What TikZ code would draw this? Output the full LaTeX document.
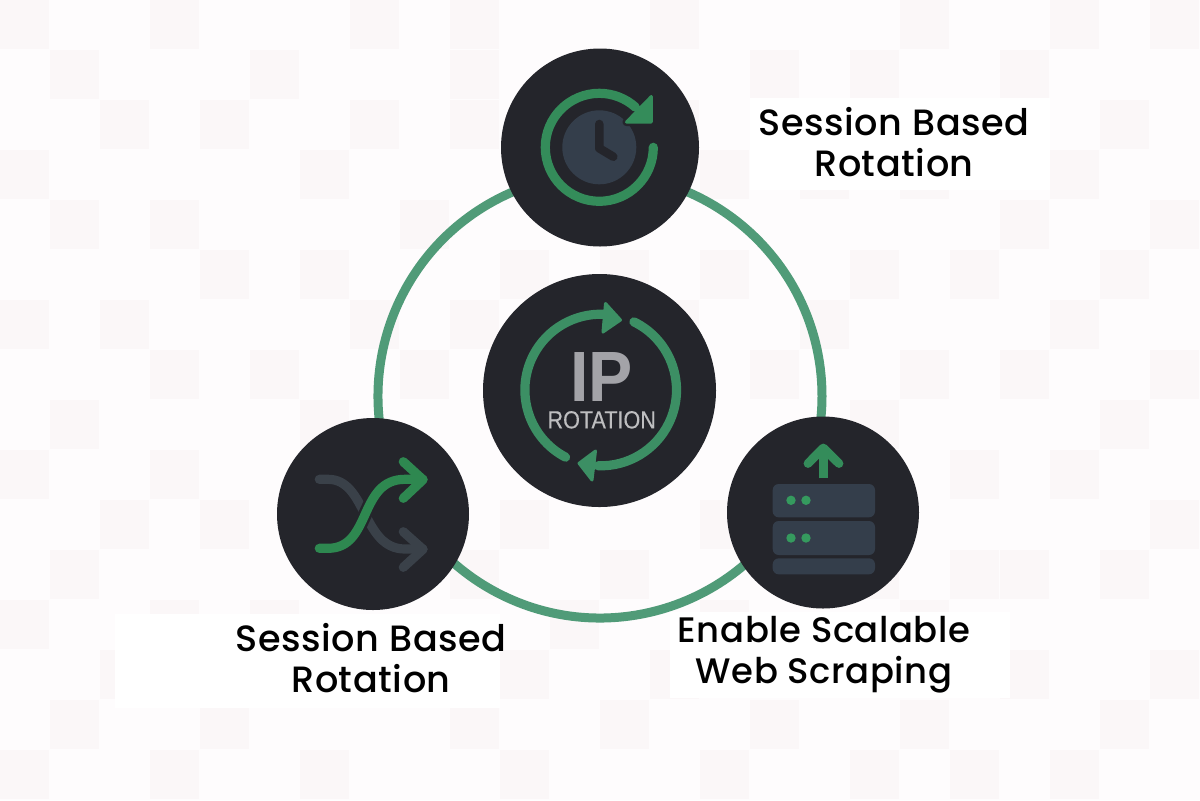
\documentclass[tikz,border=0pt]{standalone}
\usepackage{fontspec}
\setmainfont{Liberation Sans}
\newfontfamily\labfont[LetterSpace=1.6]{Poppins Medium}
\newfontfamily\ipfont[FakeStretch=0.93]{Liberation Sans Bold}
\newfontfamily\rotfont[FakeStretch=0.87,FakeBold=0.25]{Liberation Sans}
\definecolor{pagebg}{RGB}{254,252,253}
\definecolor{tile}{RGB}{251,247,248}
\definecolor{disc}{RGB}{36,37,43}
\definecolor{ringgreen}{RGB}{80,155,120}
\definecolor{icongreen}{RGB}{52,140,90}
\definecolor{arcgreen}{RGB}{60,143,100}
\definecolor{shufflegreen}{RGB}{46,136,80}
\definecolor{slate}{RGB}{52,62,75}
\definecolor{shufflegray}{RGB}{58,65,73}
\definecolor{ipgray}{RGB}{163,163,168}
\definecolor{rotgray}{RGB}{190,190,192}
\definecolor{dotgreen}{RGB}{53,154,94}
\tikzset{
  x=0.5pt,y=-0.5pt,
  bigdisc/.style={circle,fill=disc,draw=none,inner sep=0pt,outer sep=0pt},
  ringarc/.style={draw=ringgreen,line width=4.5pt},
  iconline/.style={line width=4.6pt,line cap=round,line join=round},
  shelf/.style={fill=slate,rounded corners=3pt},
  ledot/.style={fill=dotgreen},
  lab/.style={font=\fontsize{18.3}{20.4}\labfont,align=center,text=black,inner sep=0pt},
  panel/.style={fill=white,draw=none},
}
\newcommand{\tilerow}[2]{\foreach \c in {#2}{\fill[tile] (50*\c,50*#1) rectangle ++(49,49);}}
\begin{document}
\begin{tikzpicture}
\useasboundingbox (0,0) rectangle (1200,800);
\fill[pagebg] (0,0) rectangle (1200,800);
\tilerow{0}{0,3,7,9,13,18,21,23}
\tilerow{1}{1,5,9,15,17,20}
\tilerow{2}{2,4,7,9,13,22}
\tilerow{3}{0,6,14,16,18,21}
\tilerow{4}{1,3,8,20,23}
\tilerow{5}{4,6,10,12,14,17,19,22}
\tilerow{6}{0,2,7,9,13,16,21}
\tilerow{7}{3,5,8,15,18,20,23}
\tilerow{8}{1,6,17,22}
\tilerow{9}{0,3,19,21}
\tilerow{10}{2,4,10,14,23}
\tilerow{11}{1,9,12,17,19,20,22}
\tilerow{12}{0,3,5,11,14,18}
\tilerow{13}{2,10,13,20,23}
\tilerow{14}{1,4,9,12,15,18,22}
\tilerow{15}{0,3,6,10,14,17,19,21}
% white panels behind labels
\fill[panel] (750,98) rectangle (1050,190);
\fill[panel] (115,614) rectangle (500,708);
\fill[panel] (670,612) rectangle (1010,698);
% ring, as three arcs between the discs
\coordinate (ringc) at (600,396);
\coordinate (ringT) at ([shift={(270:222)}]ringc);
\coordinate (ringR) at ([shift={(27.6:222)}]ringc);
\coordinate (ringL) at ([shift={(152.6:222)}]ringc);
\draw[ringarc] (ringT) arc[start angle=270,end angle=387.6,radius=222];
\draw[ringarc] (ringR) arc[start angle=27.6,end angle=152.6,radius=222];
\draw[ringarc] (ringL) arc[start angle=152.6,end angle=270,radius=222];
% discs
\node[bigdisc,minimum size=99pt] (top) at (600,147.5) {};
\node[bigdisc,minimum size=116.5pt] (mid) at (599.5,390.5) {};
\node[bigdisc,minimum size=96pt] (left) at (373,514) {};
\node[bigdisc,minimum size=96pt] (right) at (823,512.5) {};
% top icon: clock with circular arrow
\fill[slate] (599.3,147.3) circle[radius=37];
\draw[disc,line width=4.3pt,line cap=round,line join=round] (599.3,124) -- (599.3,148.3) -- (613.3,156.7);
\draw[disc,line width=4pt,line join=round] (651.3,96.5) -- (651.3,122) -- (626.5,122) -- cycle;
\draw[icongreen,iconline] (653.3,147.3) arc[start angle=0,end angle=312,radius=54];
\filldraw[icongreen,line width=1.5pt,line join=round] (651.3,96.5) -- (651.3,122) -- (626.5,122) -- cycle;
% centre icon
\draw[arcgreen,iconline] ([shift={(117.6:75.8)}]600.7,390) arc[start angle=117.6,end angle=272,radius=75.8];
\filldraw[arcgreen,line width=1.5pt,line join=round] (620.5,320) -- (605.5,303.5) -- (603,332) -- cycle;
\draw[arcgreen,iconline] ([shift={(-64:75.8)}]600.7,390) arc[start angle=-64,end angle=92,radius=75.8];
\filldraw[arcgreen,line width=1.5pt,line join=round] (579,463.3) -- (595.5,451) -- (592,480) -- cycle;
\node[align=center,inner sep=0pt,text=rotgray,font=\fontsize{12.4}{13.3}\rotfont] (iptext) at (601.7,390.7) {{\fontsize{35.6}{13.3}\ipfont\color{ipgray}IP}\\ROTATION};
% left icon: shuffle
\draw[shufflegray,iconline] (319.3,479.3) -- (328,479.3) .. controls (367,479.3) and (362,549) .. (405,549) -- (423,549);
\draw[shufflegray,iconline] (403.3,531.7) -- (423,549.3) -- (403.3,567.3);
\draw[disc,line width=7pt] (328,548.3) .. controls (372,548.3) and (358,479.3) .. (405,479.3);
\draw[shufflegreen,iconline] (319.3,548.3) -- (328,548.3) .. controls (372,548.3) and (358,479.3) .. (405,479.3) -- (423,479.3);
\draw[shufflegreen,iconline] (403.3,461.7) -- (423,479.7) -- (403.3,498.3);
% right icon: servers with up arrow
\draw[icongreen,line width=4.5pt] (823.3,478.3) -- (823.3,450);
\draw[icongreen,line width=4.4pt,line cap=round,line join=round] (808,463.5) -- (823.3,448) -- (839,463.5);
\fill[shelf] (772.7,484) rectangle (875,517.3);
\fill[shelf] (772.7,521) rectangle (875,555);
\fill[shelf] (772.7,558.3) rectangle (875,574.3);
\fill[ledot] (791,500.3) circle[radius=4.7];
\fill[ledot] (806,500.3) circle[radius=4.7];
\fill[ledot] (791,538) circle[radius=4.7];
\fill[ledot] (806,538) circle[radius=4.7];
% labels
\node[lab] (labA) at (894,142) {Session Based\\Rotation};
\node[lab] (labB) at (371,658) {Session Based\\Rotation};
\node[lab,font=\fontsize{17.7}{20.4}\labfont] (labC) at (824,655) {Enable Scalable\\Web Scraping};
\end{tikzpicture}
\end{document}
